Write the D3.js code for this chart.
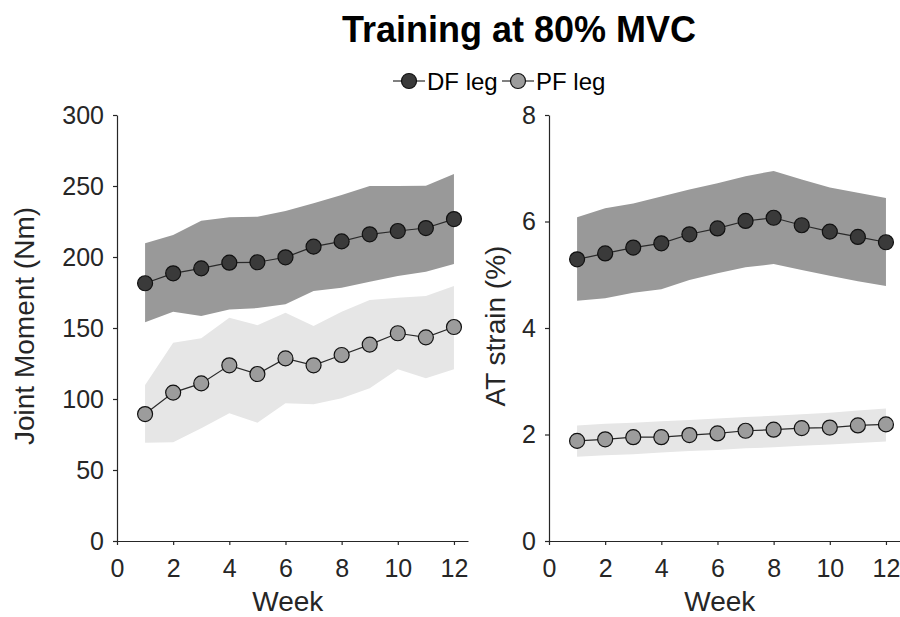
<!DOCTYPE html>
<html>
<head>
<meta charset="utf-8">
<script src="https://cdn.jsdelivr.net/npm/d3@7"></script>
<style>
  body { margin: 0; background: #fff; }
  svg text { font-family: "Liberation Sans", Arial, sans-serif; fill: #262626; }
</style>
</head>
<body>
<div id="chart"></div>
<script>
// Data
const weeks = [1, 2, 3, 4, 5, 6, 7, 8, 9, 10, 11, 12];
const xTicks = [0, 2, 4, 6, 8, 10, 12];

const momentDF   = [181.5, 188.5, 192, 196, 196.3, 199.8, 207.3, 211, 216, 218.3, 220.4, 226.7];
const momentDFLo = [154, 161.5, 158.5, 163, 164, 166.7, 176, 178.4, 182.6, 186.6, 189.6, 195];
const momentDFHi = [209.6, 215.5, 225.6, 228, 228.4, 232.4, 237.8, 243.7, 250, 250, 250.2, 258.5];
const momentPF   = [89.4, 104.5, 111, 123.7, 117.6, 128.6, 123.7, 131, 138.3, 146.3, 143.4, 150.7];
const momentPFLo = [69.2, 69.5, 79.4, 90, 83.3, 97, 96.3, 100.5, 107.5, 120.9, 114.6, 121];
const momentPFHi = [109.9, 139.7, 142.7, 157.3, 152, 160.8, 151.4, 161.5, 169.7, 171.3, 172.5, 179.6];

const strainDF   = [5.29, 5.40, 5.51, 5.59, 5.76, 5.87, 6.01, 6.07, 5.93, 5.81, 5.71, 5.61];
const strainDFLo = [4.51, 4.56, 4.66, 4.73, 4.90, 5.03, 5.14, 5.20, 5.09, 4.98, 4.88, 4.79];
const strainDFHi = [6.08, 6.25, 6.34, 6.47, 6.60, 6.72, 6.85, 6.95, 6.79, 6.64, 6.54, 6.44];
const strainPF   = [1.88, 1.91, 1.95, 1.95, 1.99, 2.02, 2.07, 2.09, 2.12, 2.13, 2.17, 2.19];
const strainPFLo = [1.58, 1.61, 1.63, 1.66, 1.69, 1.71, 1.74, 1.76, 1.79, 1.81, 1.84, 1.87];
const strainPFHi = [2.17, 2.20, 2.22, 2.25, 2.27, 2.30, 2.33, 2.35, 2.38, 2.41, 2.45, 2.49];

const momentTicks = [0, 50, 100, 150, 200, 250, 300];
const strainTicks = [0, 2, 4, 6, 8];

const seriesNames = ["DF leg", "PF leg"];
const markerFill = ["#3a3a3a", "#9c9c9c"];
const bandFill = ["#999999", "#e6e6e6"];

const W = 900, H = 617;
const svg = d3.select("#chart").append("svg")
  .attr("width", W).attr("height", H);

function panel(opts) {
  const x = d3.scaleLinear().domain([0, 12.5]).range([opts.left, opts.left + 351]);
  const y = d3.scaleLinear().domain(opts.yDomain).range([541, 115]);
  const g = svg.append("g");

  const bands = [[opts.dfLo, opts.dfHi], [opts.pfLo, opts.pfHi]];
  const means = [opts.df, opts.pf];

  // shaded bands
  bands.forEach((b, k) => {
    const area = d3.area()
      .x((d, i) => x(weeks[i]))
      .y0((d, i) => y(b[0][i]))
      .y1((d, i) => y(b[1][i]));
    g.append("path")
      .datum(weeks)
      .attr("d", area)
      .attr("fill", bandFill[k]);
  });

  // axes
  const xAxis = g.append("g")
    .attr("transform", `translate(0,${y(opts.yDomain[0])})`)
    .call(d3.axisBottom(x).tickValues(xTicks).tickSize(4).tickSizeOuter(0).tickPadding(14));
  const yAxis = g.append("g")
    .attr("transform", `translate(${x(0)},0)`)
    .call(d3.axisLeft(y).tickValues(opts.yTicks).tickSize(4).tickSizeOuter(0).tickPadding(9));
  [xAxis, yAxis].forEach(a => {
    a.select(".domain").attr("stroke", "#262626").attr("stroke-width", 1.2);
    a.selectAll(".tick line").attr("stroke", "#262626").attr("stroke-width", 1.2);
    a.selectAll(".tick text").style("font-size", "25px").attr("fill", "#262626");
  });

  // mean lines and markers
  means.forEach((m, k) => {
    const line = d3.line().x((d, i) => x(weeks[i])).y(d => y(d));
    g.append("path").datum(m)
      .attr("d", line).attr("fill", "none")
      .attr("stroke", "#2a2a2a").attr("stroke-width", 1.2);
    g.selectAll(null).data(m).join("circle")
      .attr("cx", (d, i) => x(weeks[i]))
      .attr("cy", d => y(d))
      .attr("r", 7.5)
      .attr("fill", markerFill[k])
      .attr("stroke", "#111")
      .attr("stroke-width", 1.2);
  });

  // axis labels
  g.append("text")
    .attr("x", x(0) + 28 * 6.1).attr("y", 611)
    .attr("text-anchor", "middle")
    .style("font-size", "28px")
    .text("Week");
  g.append("text")
    .attr("transform", `translate(${opts.labelX},326) rotate(-90)`)
    .attr("text-anchor", "middle")
    .style("font-size", "28px")
    .text(opts.yLabel);
}

panel({
  left: 117, yDomain: [0, 300], yTicks: momentTicks, labelX: 34,
  yLabel: "Joint Moment (Nm)",
  df: momentDF, dfLo: momentDFLo, dfHi: momentDFHi,
  pf: momentPF, pfLo: momentPFLo, pfHi: momentPFHi
});
panel({
  left: 549, yDomain: [0, 8], yTicks: strainTicks, labelX: 505,
  yLabel: "AT strain (%)",
  df: strainDF, dfLo: strainDFLo, dfHi: strainDFHi,
  pf: strainPF, pfLo: strainPFLo, pfHi: strainPFHi
});

// title
svg.append("text")
  .attr("x", 519).attr("y", 42)
  .attr("text-anchor", "middle")
  .style("font-size", "36px").style("font-weight", "bold")
  .attr("fill", "#000").style("fill", "#000")
  .text("Training at 80% MVC");

// legend
const legend = svg.append("g");
const legendX = [409, 518];
seriesNames.forEach((name, k) => {
  const cx = legendX[k];
  legend.append("line")
    .attr("x1", cx - 16).attr("x2", cx + 16)
    .attr("y1", 81).attr("y2", 81)
    .attr("stroke", "#2a2a2a").attr("stroke-width", 1.2);
  legend.append("circle")
    .attr("cx", cx).attr("cy", 81).attr("r", 7.5)
    .attr("fill", markerFill[k]).attr("stroke", "#111").attr("stroke-width", 1.2);
  legend.append("text")
    .attr("x", cx + 18).attr("y", 90)
    .style("font-size", "24px")
    .attr("fill", "#000").style("fill", "#000")
    .text(name);
});
</script>
</body>
</html>
